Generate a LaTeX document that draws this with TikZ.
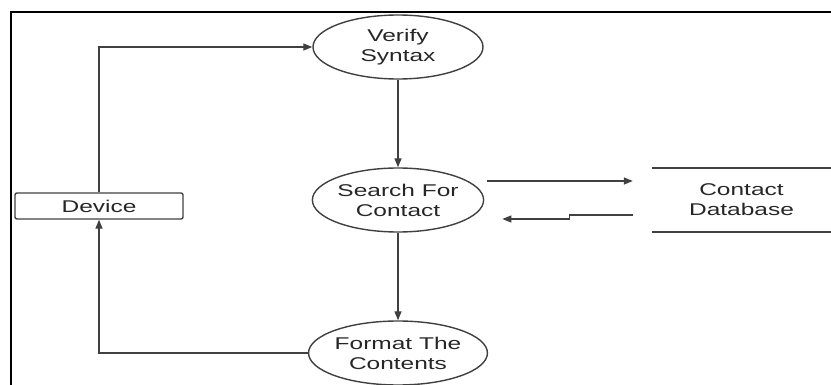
\documentclass[tikz,border=0pt]{standalone}
\usepackage{fontspec}
\setmainfont[FakeStretch=1.44]{Liberation Sans}
\usetikzlibrary{shapes.geometric,arrows.meta}
\begin{document}
\begin{tikzpicture}[x=1pt,y=-1pt,
  every node/.style={font=\fontsize{17}{20}\selectfont, text=black!85, align=center},
  proc/.style={shape=ellipse, draw=black!75, line width=1.4pt, minimum width=170pt, minimum height=64pt, inner sep=0pt},
  flow/.style={-{Triangle[length=9pt,width=7pt]}, draw=black!75, line width=1.3pt}]
\useasboundingbox (0,0) rectangle (831,385);
% outer frame, cut by the page on the right and at the bottom
\draw[line width=2.5pt] (11,395) -- (11,12) -- (845,12);
\node[proc] (N1) at (398,47) {Verify\\Syntax};
\node[proc] (N2) at (398,200) {Search For\\Contact};
\node[proc] (N3) at (398,353) {Format The\\Contents};
\node[shape=rectangle, draw=black!75, line width=1.4pt, rounded corners=2pt, minimum width=168pt, minimum height=26pt, inner sep=0pt] (D) at (99,206) {Device};
\node[minimum width=179pt, minimum height=64pt, inner sep=0pt] (DB) at (741.5,200) {Contact\\Database};
\draw[draw=black!75, line width=1.6pt] (DB.north west) -- (DB.north east);
\draw[draw=black!75, line width=1.6pt] (DB.south west) -- (DB.south east);
\draw[flow] (D.north) |- (N1.west);
\draw[flow] (N1.south) -- (N2.north);
\draw[flow] (N2.south) -- (N3.north);
\draw[flow] (N3.west) -| (D.south);
\draw[flow] ([shift={(3,-19)}]N2.east) -- ([shift={(-19,-19)}]DB.west);
\draw[flow] ([shift={(-19,15)}]DB.west) -- ++(-63,0) -- ++(0,4) -- ([shift={(18,19)}]N2.east);
\end{tikzpicture}
\end{document}
